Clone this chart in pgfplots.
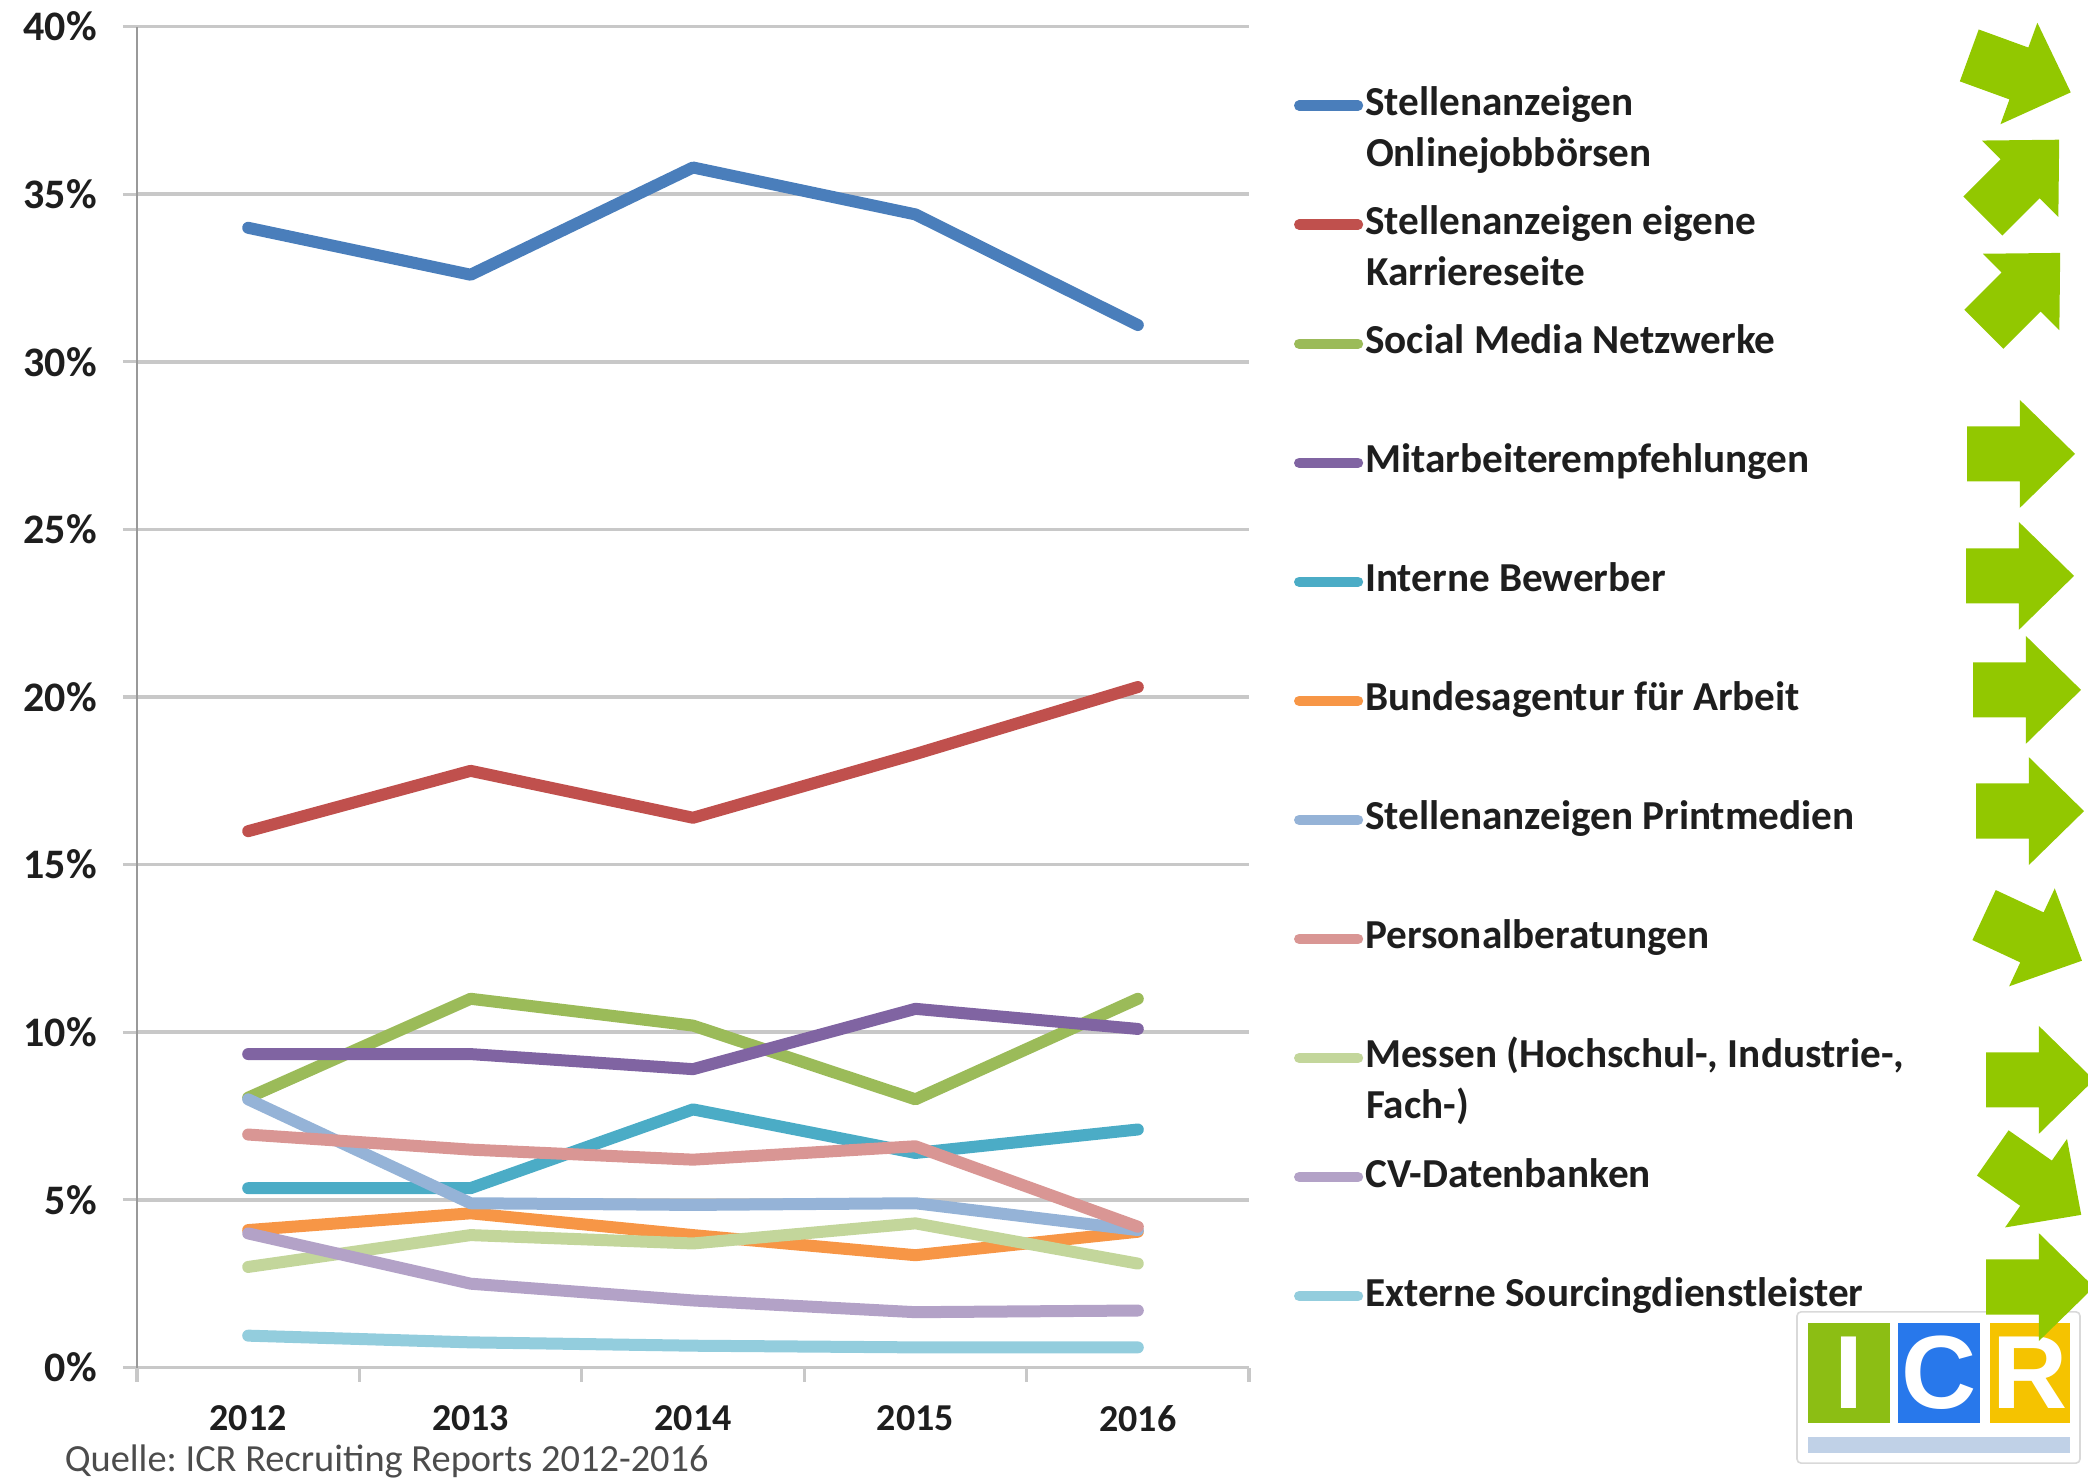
\documentclass[border=0pt]{standalone}
\usepackage{fontspec}
\setmainfont{Carlito}
\newfontfamily\logofont{Liberation Sans}
\usepackage{pgfplots}
\pgfplotsset{compat=1.18}
\frenchspacing

\definecolor{c1}{RGB}{74,126,187}
\definecolor{c2}{RGB}{192,80,77}
\definecolor{c3}{RGB}{155,187,89}
\definecolor{c4}{RGB}{128,100,162}
\definecolor{c5}{RGB}{75,172,198}
\definecolor{c6}{RGB}{247,150,70}
\definecolor{c7}{RGB}{149,179,215}
\definecolor{c8}{RGB}{217,150,148}
\definecolor{c9}{RGB}{195,214,155}
\definecolor{c10}{RGB}{179,162,199}
\definecolor{c11}{RGB}{147,205,221}
\definecolor{gridc}{RGB}{200,200,200}
\definecolor{arrowc}{RGB}{146,200,0}
\definecolor{logog}{RGB}{140,190,20}
\definecolor{logob}{RGB}{40,120,235}
\definecolor{logoy}{RGB}{245,195,0}
\definecolor{txt}{RGB}{30,30,30}

\newcommand{\greenarrow}[3]{\fill[arrowc, shift={(#1pt,#2pt)}, rotate=#3] (-13.5pt,-6.9pt) -- (-0.3pt,-6.9pt) -- (-0.3pt,-13.5pt) -- (13.5pt,0pt) -- (-0.3pt,13.5pt) -- (-0.3pt,6.9pt) -- (-13.5pt,6.9pt) -- cycle;}

\tikzset{legtext/.style={inner xsep=0.5pt, inner ysep=0pt, text height=7pt, text depth=2pt, text=txt, font=\bfseries\fontsize{10.3}{12}\selectfont}}

\begin{document}
\begin{tikzpicture}
\useasboundingbox (-34.25pt,-27.625pt) rectangle (487.75pt,341.875pt);
\begin{axis}[
  at={(0pt,0pt)}, anchor=south west,
  scale only axis, width=278pt, height=335.2pt,
  xmin=-0.5, xmax=4.5, ymin=0, ymax=40,
  axis x line*=bottom, axis y line*=left,
  x axis line style={gridc, line width=0.9pt},
  y axis line style={black!40, line width=0.5pt},
  xtick={-0.5,0.5,1.5,2.5,3.5,4.5},
  x tick label as interval,
  xticklabels={2012,2013,2014,2015,2016},
  ytick={0,5,...,40},
  tick align=outside, major tick length=3.5pt,
  xtick style={gridc, line width=0.8pt},
  ytick style={gridc, line width=0.8pt},
  ymajorgrids, grid style={gridc, line width=0.9pt},
  /pgf/number format/assume math mode=true,
  yticklabel={\pgfmathprintnumber{\tick}\%},
  yticklabel style={font=\bfseries\fontsize{10.5}{12}\selectfont, text=txt, xshift=-3pt},
  xticklabel style={font=\bfseries\fontsize{9.5}{11}\selectfont, text=txt, yshift=-2.6pt},
  every axis plot/.append style={line width=3pt, line join=round, line cap=round, mark=none},
  legend cell align=left,
  legend image code/.code={\draw[#1, line width=2.6pt, line cap=round] (1.3pt,0pt) -- (16pt,0pt);},
  legend style={draw=none, fill=none, inner sep=0pt, outer sep=0pt,
    at={(1.04047,0.9855)}, anchor=north west,
    row sep=0pt, column sep=0pt,
    nodes={legtext, minimum height=29.76pt, anchor=west}},
]
\addplot[c1] coordinates {(0,34.0) (1,32.6) (2,35.8) (3,34.4) (4,31.1)};
\addlegendentry{Stellenanzeigen}
\addplot[c2] coordinates {(0,16.0) (1,17.8) (2,16.4) (3,18.3) (4,20.3)};
\addlegendentry{Stellenanzeigen eigene}
\addplot[c3] coordinates {(0,8.05) (1,11.0) (2,10.2) (3,8.0) (4,11.0)};
\addlegendentry{Social Media Netzwerke}
\addplot[c4] coordinates {(0,9.35) (1,9.35) (2,8.9) (3,10.7) (4,10.1)};
\addlegendentry{Mitarbeiterempfehlungen}
\addplot[c5] coordinates {(0,5.35) (1,5.35) (2,7.7) (3,6.4) (4,7.1)};
\addlegendentry{Interne Bewerber}
\addplot[c6] coordinates {(0,4.1) (1,4.6) (2,3.95) (3,3.35) (4,4.05)};
\addlegendentry{Bundesagentur für Arbeit}
\addplot[c7] coordinates {(0,8.0) (1,4.9) (2,4.85) (3,4.9) (4,4.1)};
\addlegendentry{Stellenanzeigen Printmedien}
\addplot[c8] coordinates {(0,6.95) (1,6.5) (2,6.2) (3,6.6) (4,4.2)};
\addlegendentry{Personalberatungen}
\addplot[c9] coordinates {(0,3.0) (1,3.95) (2,3.7) (3,4.3) (4,3.1)};
\addlegendentry{Messen (Hochschul-, Industrie-,}
\addplot[c10] coordinates {(0,4.0) (1,2.5) (2,2.0) (3,1.65) (4,1.7)};
\addlegendentry{CV-Datenbanken}
\addplot[c11] coordinates {(0,0.95) (1,0.75) (2,0.65) (3,0.6) (4,0.6)};
\addlegendentry{Externe Sourcingdienstleister}
\end{axis}

% second lines of two-line legend entries
\node[legtext, anchor=west] at (306.55pt,302.7pt) {Onlinejobbörsen};
\node[legtext, anchor=west] at (306.55pt,273.0pt) {Karriereseite};
\node[legtext, anchor=west] at (306.55pt,64.7pt) {Fach-)};

% source
\node[anchor=west, inner sep=0pt, text=black!70, font=\fontsize{9.6}{11}\selectfont] at (-18.25pt,-23.6pt) {Quelle: ICR Recruiting Reports 2012-2016};

% logo
\filldraw[fill=white, draw=black!15, line width=0.4pt, rounded corners=1pt] (415pt,-23.9pt) rectangle (485.75pt,13.9pt);
\fill[logog] (417.75pt,-13.9pt) rectangle (438.25pt,11.1pt);
\fill[logob] (440.25pt,-13.9pt) rectangle (460.75pt,11.1pt);
\fill[logoy] (463.25pt,-13.9pt) rectangle (483.25pt,11.1pt);
\node[text=white, inner sep=0pt, font=\logofont\bfseries\fontsize{26}{26}\selectfont] at (428pt,-1.4pt) {I};
\node[text=white, inner sep=0pt, font=\logofont\bfseries\fontsize{26}{26}\selectfont] at (450.5pt,-1.4pt) {C};
\node[text=white, inner sep=0pt, font=\logofont\bfseries\fontsize{26}{26}\selectfont] at (473.25pt,-1.4pt) {R};
\fill[c7!60] (417.75pt,-21.4pt) rectangle (483.25pt,-17.4pt);

% trend arrows
\greenarrow{470.75}{323.4}{-20}
\greenarrow{471}{297.4}{45}
\greenarrow{471.25}{269.1}{45}
\greenarrow{471}{228.4}{0}
\greenarrow{470.75}{197.9}{0}
\greenarrow{472.5}{169.4}{0}
\greenarrow{473.25}{139.1}{0}
\greenarrow{474}{107.4}{-25}
\greenarrow{475.75}{71.9}{0}
\greenarrow{475}{45.9}{-35}
\greenarrow{475.75}{20.1}{0}
\end{tikzpicture}
\end{document}
